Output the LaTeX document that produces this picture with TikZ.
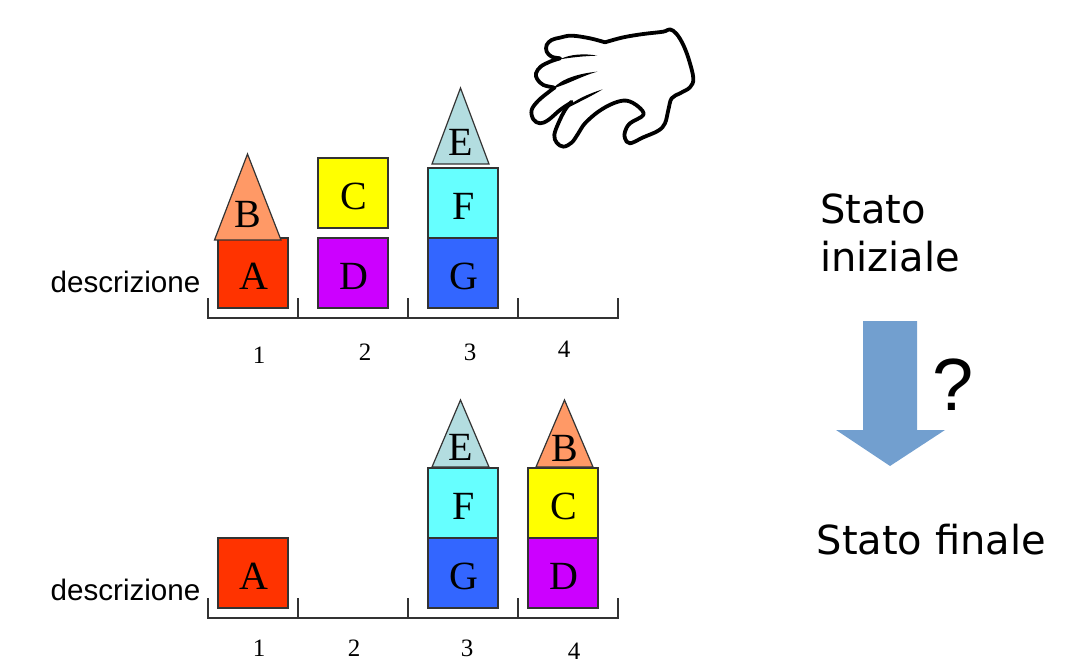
\documentclass[tikz,border=0pt]{standalone}
\usepackage{fontspec}
\setmainfont{Liberation Serif}
\newfontfamily\labelfont{Liberation Sans}
\newfontfamily\statefont{DejaVu Sans}
\definecolor{edge}{HTML}{333333}
\definecolor{blockA}{HTML}{FF3300}
\definecolor{blockB}{HTML}{FF9966}
\definecolor{blockC}{HTML}{FFFF00}
\definecolor{blockD}{HTML}{CC00FF}
\definecolor{blockE}{HTML}{B3DDE0}
\definecolor{blockF}{HTML}{66FFFF}
\definecolor{blockG}{HTML}{3366FF}
\definecolor{flow}{HTML}{729FCF}
\tikzset{
  block/.style={draw=edge, line width=1.2pt, minimum size=70pt, inner sep=0pt,
                text height=32.4pt, text depth=0pt, execute at begin node={\kern2pt},
                font=\fontsize{40}{40}\selectfont, text=black},
  tri/.style={draw=edge, line width=1.2pt, line join=miter},
  letter/.style={inner sep=0pt, font=\fontsize{40}{40}\selectfont, text=black},
  num/.style={inner sep=0pt, font=\fontsize{25}{25}\selectfont, text=black},
  desc/.style={inner sep=0pt, font=\labelfont\fontsize{29.6}{30}\selectfont, text=black},
  state/.style={inner sep=0pt, anchor=base west, font=\statefont\fontsize{40}{48}\selectfont,
                text=black},
  shelf/.style={draw=edge, line width=1.2pt},
  glove/.style={line width=3.8pt, line cap=round, line join=round},
}
\begin{document}
\begin{tikzpicture}[x=1pt, y=-1pt]
  \useasboundingbox (0,0) rectangle (1066,671);

  % first row
  \node[block, fill=blockA] (a1) at (253,273) {A};
  \draw[tri, fill=blockB] (214.5,240) -- (247.5,154) -- (281,240) -- cycle;
  \node[letter] (b1) at (248,214) {B};
  \node[block, fill=blockC] (c1) at (353,193) {C};
  \node[block, fill=blockD] (d1) at (353,273) {D};
  \node[block, fill=blockG] (g1) at (463,273) {G};
  \node[block, fill=blockF] (f1) at (463,203) {F};
  \draw[tri, fill=blockE] (432,164) -- (460.5,88) -- (489,164) -- cycle;
  \node[letter] (e1) at (461,142) {E};

  % second row
  \node[block, fill=blockA] (a2) at (253,573) {A};
  \node[block, fill=blockG] (g2) at (463,573) {G};
  \node[block, fill=blockF] (f2) at (463,503) {F};
  \draw[tri, fill=blockE] (432,467) -- (460.5,400) -- (489,467) -- cycle;
  \node[letter] (e2) at (461,447) {E};
  \node[block, fill=blockD] (d2) at (563,573) {D};
  \node[block, fill=blockC] (c2) at (563,503) {C};
  \draw[tri, fill=blockB] (536,467) -- (564.5,400) -- (593,467) -- cycle;
  \node[letter] (b2) at (565,448) {B};

  % shelves
  \foreach \y in {318,618} {
    \draw[shelf] (208,\y-20) -- (208,\y) -- (618,\y) -- (618,\y-20);
    \foreach \x in {298,408,518}
      \draw[shelf] (\x,\y-20) -- (\x,\y);
  }

  \node[desc] (desc1) at (125.5,282) {descrizione};
  \node[desc] (desc2) at (125.5,590) {descrizione};

  \node[num] (n11) at (259,355) {1};
  \node[num] (n12) at (365,352) {2};
  \node[num] (n13) at (470,352) {3};
  \node[num] (n14) at (564,349) {4};
  \node[num] (n21) at (259,648) {1};
  \node[num] (n22) at (354,648) {2};
  \node[num] (n23) at (467,648) {3};
  \node[num] (n24) at (574,651) {4};

  % hand
  \begin{scope}[shift={(510,10)}, x=0.3333pt, y=-0.3333pt]
    \draw[glove] plot[smooth, tension=0.6] coordinates {
      (285,97) (340,82) (400,72) (460,65) (480,58) (500,72) (520,105) (537,150)
      (550,205) (540,232) (510,250) (485,265) (475,300) (465,340) (445,362)
      (400,382) (360,400) (345,385) (345,365) (360,340) (400,315) (385,290)
      (350,272) (310,280) (265,305) (225,340) (205,370) (185,398) (160,410)
      (140,398) (133,375) (145,340) (165,300) (185,275)};
    \draw[glove] plot[smooth, tension=0.6] coordinates {
      (180,280) (150,300) (115,330) (90,340) (70,328) (65,300) (85,272)
      (120,243) (135,232)};
    \draw[glove] plot[smooth, tension=0.6] coordinates {
      (130,232) (100,225) (82,208) (78,190) (92,170) (120,155) (150,145)};
    \draw[glove] plot[smooth, tension=0.6] coordinates {
      (150,145) (125,140) (110,125) (110,105) (125,90) (150,83) (185,77)
      (240,85) (285,97)};
    \fill (150,148) .. controls (180,132) and (225,130) .. (262,137)
      .. controls (225,138) and (185,142) .. (150,148) -- cycle;
    \fill (130,235) .. controls (155,205) and (210,190) .. (262,185)
      .. controls (215,198) and (175,222) .. (130,235) -- cycle;
    \fill (165,298) .. controls (190,270) and (240,250) .. (278,238)
      .. controls (245,258) and (215,272) .. (165,298) -- cycle;
  \end{scope}

  % state labels
  \node[state] (init) at (820,224) {Stato};
  \node[state] (init2) at (820,272) {iniziale};
  \node[state] (final) at (816.5,554) {Stato finale};

  \fill[flow] (863,321) -- (917,321) -- (917,430) -- (945,430) -- (890,466)
    -- (836,430) -- (863,430) -- cycle;
  \node[inner sep=0pt, font=\labelfont\fontsize{74}{74}\selectfont] (ask) at (953,384.5) {?};
\end{tikzpicture}
\end{document}
